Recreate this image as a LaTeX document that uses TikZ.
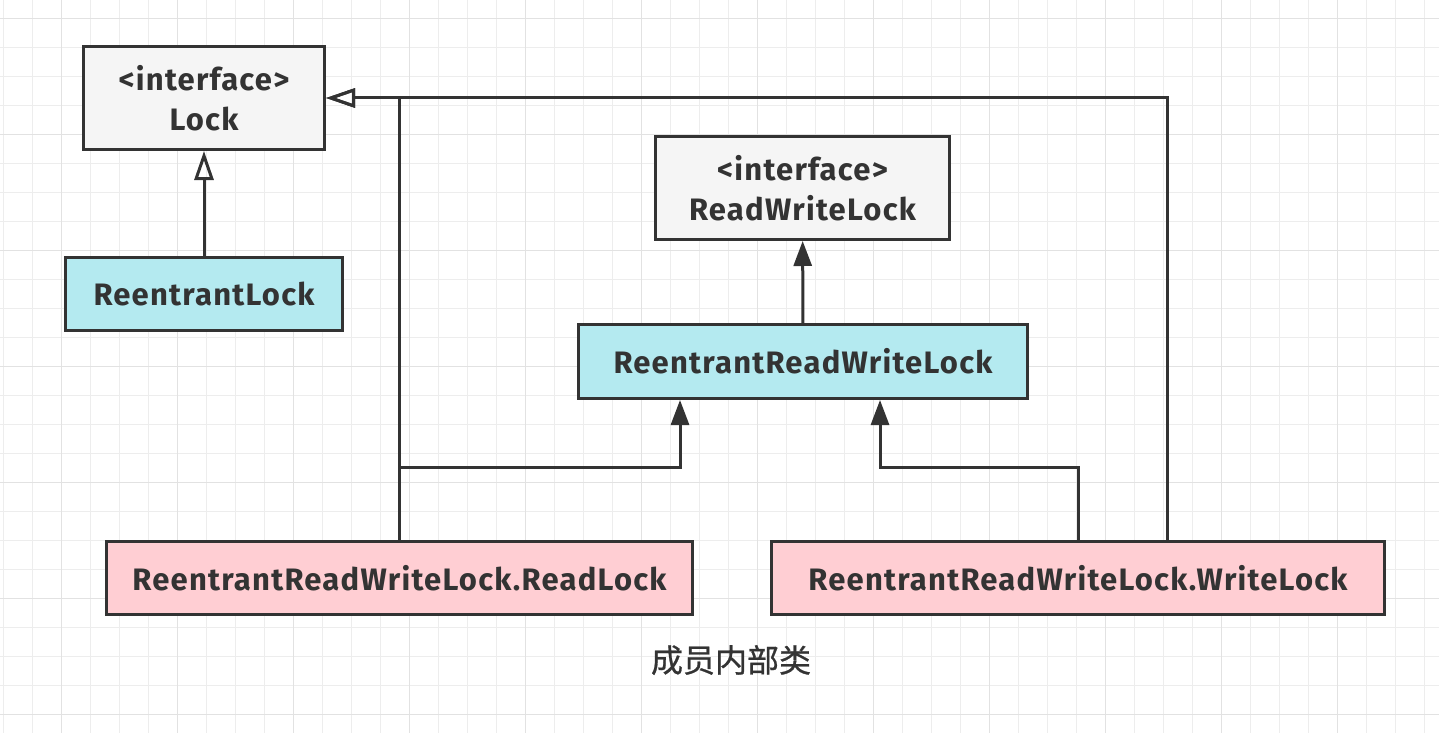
\documentclass[tikz,border=0pt]{standalone}
\usepackage{fontspec}
\setmainfont{Fira Sans}[LetterSpace=4]
\newfontfamily\cjk{Noto Sans CJK SC}[FakeBold=0.8]
\usepackage{xcolor}
\definecolor{colorl}{RGB}{51,51,51}
\definecolor{colori}{RGB}{245,245,245}
\definecolor{colorr}{RGB}{180,234,240}
\definecolor{colorp}{RGB}{255,206,211}
\definecolor{colorg}{RGB}{237,237,237}
\definecolor{colorm}{RGB}{226,226,226}
\usetikzlibrary{arrows.meta,positioning,calc}
\tikzstyle{blockI} = [rectangle, text=colorl, fill=colori, draw=colorl, line width=3pt, inner sep=0pt, align=center, font=\fontsize{31}{40}\selectfont\bfseries]
\tikzstyle{blockR} = [rectangle, text=colorl, fill=colorr, draw=colorl, line width=3pt, inner sep=0pt, font=\fontsize{31}{40}\selectfont\bfseries]
\tikzstyle{blockP} = [rectangle, text=colorl, fill=colorp, draw=colorl, line width=3pt, inner sep=0pt, font=\fontsize{31}{40}\selectfont\bfseries]
\tikzstyle{impl} = [draw=colorl, line width=3pt, -{Triangle[open,length=29pt,width=19pt]}]
\tikzstyle{inner} = [draw=colorl, line width=3pt, -{Triangle[length=25pt,width=18pt]}]

\begin{document}
\begin{tikzpicture}[x=1pt,y=-1pt]

  \fill[white] (0,0) rectangle (1439,733);
  \useasboundingbox (0,0) rectangle (1439,733);

  % grid
  \foreach \i in {0,...,49}
  \draw[colorg, line width=1pt] (3.3+29*\i,0) -- (3.3+29*\i,733);
  \foreach \j in {0,...,25}
  \draw[colorg, line width=1pt] (0,18.3+29*\j) -- (1439,18.3+29*\j);
  \foreach \i in {0,...,12}
  \draw[colorm, line width=1pt] (61.3+116*\i,0) -- (61.3+116*\i,733);
  \foreach \j in {0,...,6}
  \draw[colorm, line width=1pt] (0,18.3+116*\j) -- (1439,18.3+116*\j);

  \node[blockI, minimum width=241pt, minimum height=103pt] (lock) at (204,98) {<interface>\\Lock};
  \node[blockR, minimum width=277pt, minimum height=73pt] (rlock) at (204,294) {ReentrantLock};
  \node[blockI, minimum width=294pt, minimum height=103pt] (rwlock) at (802.5,188) {<interface>\\ReadWriteLock};
  \node[blockR, minimum width=449pt, minimum height=74pt] (rrwlock) at (803,361.5) {ReentrantReadWriteLock};
  \node[blockP, minimum width=586pt, minimum height=73pt] (readlock) at (399.5,578) {ReentrantReadWriteLock.ReadLock};
  \node[blockP, minimum width=613pt, minimum height=73pt] (writelock) at (1078,578) {ReentrantReadWriteLock.WriteLock};

  \node[text=colorl, font=\cjk\fontsize{32}{36}\selectfont] (note) at (731,660) {成员内部类};

  \coordinate (wtop) at (1167,540);
  \coordinate (rjoin) at (400,467);
  \coordinate (wjoin) at (1078,467);
  \coordinate (rin) at (680,400);
  \coordinate (win) at (880,400);

  \path[impl] (rlock) -- (lock);
  \path[impl] (readlock.north) |- (lock.east);
  \path[impl] (wtop) |- (lock.east);
  \path[inner] (rrwlock) -- (rwlock);
  \path[inner] (rjoin) -| (rin);
  \path[inner] (writelock.north) -- (wjoin) -| (win);
\end{tikzpicture}
\end{document}
